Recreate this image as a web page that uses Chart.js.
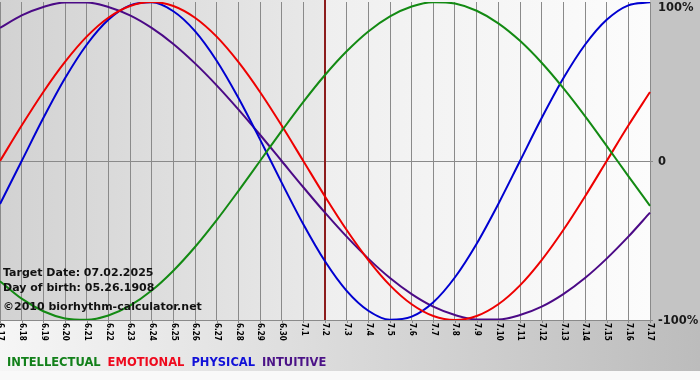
<!DOCTYPE html>
<html>
<head>
<meta charset="utf-8">
<script src="https://cdn.jsdelivr.net/npm/chart.js@4/dist/chart.umd.min.js"></script>
<style>
  html, body { margin: 0; padding: 0; background: #fff; }
  #wrap { width: 700px; height: 380px; }
</style>
</head>
<body>
<div id="wrap"><canvas id="bio" width="700" height="380"></canvas></div>
<script>
const days = ['6.17','6.18','6.19','6.20','6.21','6.22','6.23','6.24','6.25','6.26','6.27','6.28','6.29','6.30',
  '7.1','7.2','7.3','7.4','7.5','7.6','7.7','7.8','7.9','7.10','7.11','7.12','7.13','7.14','7.15','7.16','7.17'];

// percent values, one per day
const physical = [-27.0,0,27.0,52.0,73.1,88.8,97.9,99.8,94.2,81.7,63.1,39.8,13.6,-13.6,-39.8,-63.1,-81.7,-94.2,-99.8,-97.9,-88.8,-73.1,-52.0,-27.0,0,27.0,52.0,73.1,88.8,97.9,99.8];
const emotional = [0,22.3,43.4,62.3,78.2,90.1,97.5,100,97.5,90.1,78.2,62.3,43.4,22.3,0,-22.3,-43.4,-62.3,-78.2,-90.1,-97.5,-100,-97.5,-90.1,-78.2,-62.3,-43.4,-22.3,0,22.3,43.4];
const intellectual = [-75.6,-86.6,-94.5,-99.0,-99.9,-97.2,-91.0,-81.5,-69.0,-54.1,-37.2,-18.9,0,18.9,37.2,54.1,69.0,81.5,91.0,97.2,99.9,99.0,94.5,86.6,75.6,61.8,45.8,28.2,9.5,-9.5,-28.2];
const intuitive = [83.7,91.6,96.9,99.7,99.7,96.9,91.6,83.7,73.6,61.4,47.6,32.5,16.5,0,-16.5,-32.5,-47.6,-61.4,-73.6,-83.7,-91.6,-96.9,-99.7,-99.7,-96.9,-91.6,-83.7,-73.6,-61.4,-47.6,-32.5];

const yTicks = [100, 0, -100];
const yTickLabels = ['100%', '0', '-100%'];
const targetDay = '7.2';
const infoLines = ['Target Date: 07.02.2025', 'Day of birth: 05.26.1908', '\u00a92010 biorhythm-calculator.net'];

const legendItems = [
  { text: 'INTELLECTUAL', color: '#12801a' },
  { text: 'EMOTIONAL', color: '#ee0a1e' },
  { text: 'PHYSICAL', color: '#1010d8' },
  { text: 'INTUITIVE', color: '#4b1287' }
];

const bioBackground = {
  id: 'bioBackground',
  beforeDraw(chart) {
    const { ctx, chartArea: a, width, height } = chart;
    const mid = chart.scales.x.getPixelForValue(days.indexOf(targetDay));
    ctx.save();
    // bottom band
    let g = ctx.createLinearGradient(0, 0, width, 0);
    g.addColorStop(0, '#f6f6f6');
    g.addColorStop(1, '#bcbcbc');
    ctx.fillStyle = g;
    ctx.fillRect(0, 0, width, 371);
    ctx.fillStyle = '#f9f9f9';
    ctx.fillRect(0, 371, width, height - 371);
    // right margin
    ctx.fillStyle = '#c4c4c4';
    ctx.fillRect(a.right, 0, width - a.right, a.bottom);
    // plot, past part
    g = ctx.createLinearGradient(a.left, 0, mid, 0);
    g.addColorStop(0, '#d2d2d2');
    g.addColorStop(1, '#e9e9e9');
    ctx.fillStyle = g;
    ctx.fillRect(a.left, 0, mid - a.left, a.bottom);
    // plot, future part
    g = ctx.createLinearGradient(mid, 0, a.right, 0);
    g.addColorStop(0, '#efefef');
    g.addColorStop(1, '#fcfcfc');
    ctx.fillStyle = g;
    ctx.fillRect(mid, 0, a.right - mid, a.bottom);
    ctx.restore();
  },
  beforeDatasetsDraw(chart) {
    const { ctx, chartArea: a, scales } = chart;
    const x = Math.round(scales.x.getPixelForValue(days.indexOf(targetDay)));
    ctx.save();
    // bottom axis line + zero line stub and ticks
    ctx.strokeStyle = '#8a8a8a';
    ctx.lineWidth = 1;
    ctx.beginPath();
    ctx.moveTo(a.left, a.bottom + 0.5);
    ctx.lineTo(a.right + 3, a.bottom + 0.5);
    const y0 = Math.round(scales.y.getPixelForValue(0)) + 0.5;
    ctx.moveTo(a.right, y0);
    ctx.lineTo(a.right + 3, y0);
    days.forEach((d, i) => {
      const px = Math.round(scales.x.getPixelForValue(i)) + 0.5;
      ctx.moveTo(px, a.bottom);
      ctx.lineTo(px, a.bottom + 3);
    });
    ctx.stroke();
    // today marker
    ctx.strokeStyle = '#8c1c1c';
    ctx.lineWidth = 2;
    ctx.beginPath();
    ctx.moveTo(x, 0);
    ctx.lineTo(x, a.bottom);
    ctx.stroke();
    ctx.restore();
  },
  afterDraw(chart) {
    const { ctx, chartArea: a, scales } = chart;
    ctx.save();
    // x labels, rotated clockwise
    ctx.fillStyle = '#000';
    ctx.font = "bold 8px 'Liberation Sans Narrow', 'DejaVu Sans Condensed', sans-serif";
    ctx.textAlign = 'left';
    ctx.textBaseline = 'middle';
    days.forEach((d, i) => {
      const px = scales.x.getPixelForValue(i);
      ctx.save();
      ctx.translate(px + 0.5, a.bottom + 3);
      ctx.rotate(Math.PI / 2);
      ctx.fillText(d, 0, 0);
      ctx.restore();
    });
    // y labels on the right
    ctx.font = "bold 11.5px 'DejaVu Sans', sans-serif";
    ctx.fillStyle = '#1a1a1a';
    yTicks.forEach((v, i) => {
      const py = Math.max(scales.y.getPixelForValue(v), 7);
      ctx.fillText(yTickLabels[i], 658, py + 1);
    });
    // info text
    ctx.font = "bold 11px 'DejaVu Sans', sans-serif";
    ctx.textBaseline = 'alphabetic';
    ctx.fillStyle = '#111';
    ctx.fillText(infoLines[0], 3, 276);
    ctx.fillText(infoLines[1], 3, 291);
    ctx.fillText(infoLines[2], 3, 310);
    // legend
    ctx.font = "bold 11.5px 'DejaVu Sans', sans-serif";
    let lx = 7;
    legendItems.forEach(it => {
      ctx.fillStyle = it.color;
      ctx.fillText(it.text, lx, 366);
      lx += ctx.measureText(it.text).width + 7;
    });
    ctx.restore();
  }
};

function series(label, data, color) {
  return { label, data, borderColor: color, borderWidth: 2, pointRadius: 0,
    cubicInterpolationMode: 'monotone', fill: false };
}

new Chart(document.getElementById('bio'), {
  type: 'line',
  data: {
    labels: days,
    datasets: [
      series('Intellectual', intellectual, '#138a13'),
      series('Emotional', emotional, '#ee0000'),
      series('Physical', physical, '#0000d0'),
      series('Intuitive', intuitive, '#4b0a86')
    ]
  },
  options: {
    responsive: false,
    animation: false,
    layout: { padding: { left: 0, right: 50, top: 2, bottom: 60 } },
    plugins: { legend: { display: false }, tooltip: { enabled: false } },
    scales: {
      x: {
        offset: false,
        ticks: { display: false },
        border: { display: false },
        grid: { color: '#8a8a8a', lineWidth: 1, drawTicks: false }
      },
      y: {
        min: -100, max: 100,
        ticks: { display: false, stepSize: 100 },
        border: { display: false },
        grid: {
          drawTicks: false,
          color: ctx => ctx.tick && ctx.tick.value === 0 ? '#8a8a8a' : 'rgba(0,0,0,0)'
        }
      }
    }
  },
  plugins: [bioBackground]
});
</script>
</body>
</html>
